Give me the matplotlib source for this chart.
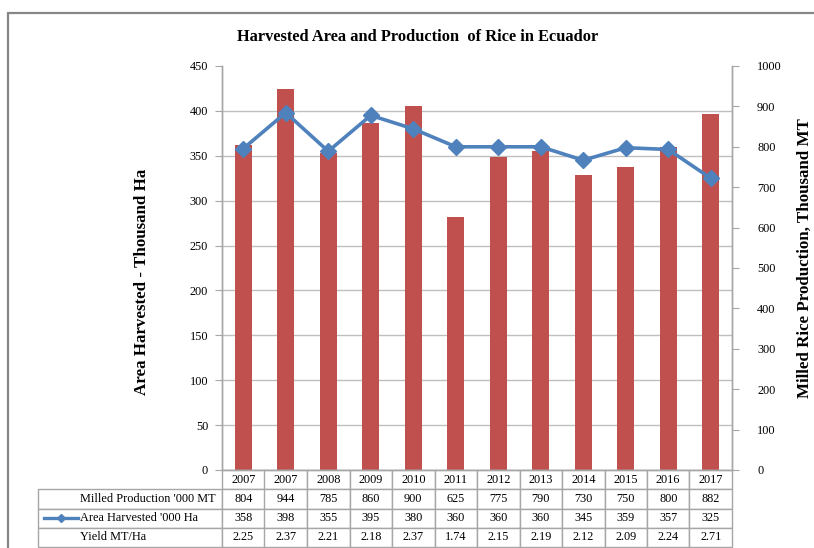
import matplotlib
matplotlib.use("Agg")
import matplotlib.pyplot as plt
from matplotlib.lines import Line2D
from matplotlib.patches import Rectangle
from matplotlib.ticker import FixedLocator

years = ["2007", "2007", "2008", "2009", "2010", "2011", "2012", "2013", "2014", "2015", "2016", "2017"]
production = [804, 944, 785, 860, 900, 625, 775, 790, 730, 750, 800, 882]
area = [358, 398, 355, 395, 380, 360, 360, 360, 345, 359, 357, 325]
yield_vals = ["2.25", "2.37", "2.21", "2.18", "2.37", "1.74", "2.15", "2.19", "2.12", "2.09", "2.24", "2.71"]
row_labels = ["Milled Production '000 MT", "Area Harvested '000 Ha", "Yield MT/Ha"]
left_ticks = [0, 50, 100, 150, 200, 250, 300, 350, 400, 450]
right_ticks = [0, 100, 200, 300, 400, 500, 600, 700, 800, 900, 1000]

BAR_C = "#C0504D"
LINE_C = "#4F81BD"
GRID_C = "#BFBFBF"
SPINE_C = "#A6A6A6"
SERIF = "Liberation Serif"

plt.rcParams["font.family"] = [SERIF, "DejaVu Serif"]

W, H = 814, 548
fig = plt.figure(figsize=(W / 100, H / 100), dpi=100)

L, R, T, B = 222, 732, 66, 470
ax = fig.add_axes([L / W, 1 - B / H, (R - L) / W, (B - T) / H])
ax2 = ax.twinx()
ax.set_zorder(ax2.get_zorder() + 1)
ax.patch.set_visible(False)

x = list(range(len(years)))

# bars on right axis
ax2.bar(x, production, width=0.4, color=BAR_C, zorder=2)
ax2.set_ylim(0, 1000)
ax2.set_yticks(right_ticks)
ax2.yaxis.set_minor_locator(FixedLocator([t * 1000 / 450 for t in left_ticks]))
ax2.grid(which="minor", axis="y", color=GRID_C, linewidth=1.0)
ax2.set_axisbelow(True)
ax2.tick_params(axis="y", which="minor", length=0)
ax2.tick_params(axis="y", which="major", length=5, color=SPINE_C, labelsize=8.8, pad=13, direction="out")

# line on left axis
ax.plot(x, area, color=LINE_C, linewidth=2.6, marker="D", markersize=8.5, zorder=3)
ax.set_ylim(0, 450)
ax.set_xlim(-0.5, len(years) - 0.5)
ax.set_yticks(left_ticks)
ax.tick_params(axis="y", length=5, color=SPINE_C, labelsize=8.8, pad=5)
ax.set_xticks([])
ax2.set_xticks([])

for a in (ax, ax2):
    for s in a.spines.values():
        s.set_color(SPINE_C)
        s.set_linewidth(1.0)
    a.spines["top"].set_visible(False)

ax.set_ylabel("Area Harvested - Thousand Ha", fontsize=12.2, fontweight="bold")
ax.yaxis.set_label_coords((150 - L) / (R - L), (B - 282) / (B - T))
ax2.set_ylabel("Milled Rice Production, Thousand MT", fontsize=12.2, fontweight="bold")
ax2.yaxis.set_label_coords((797 - L) / (R - L), (B - 258) / (B - T))

fig.text(418 / W, 1 - 37 / H, "Harvested Area and Production  of Rice in Ecuador",
         ha="center", va="center", fontsize=11.8, fontweight="bold")

# data table
cell_text = [[""] + years,
             [row_labels[0]] + [str(v) for v in production],
             [row_labels[1]] + [str(v) for v in area],
             [row_labels[2]] + yield_vals]
TL = 38
TB = 547
col_w = [(L - TL)] + [(R - L) / len(years)] * len(years)
tot = sum(col_w)
tbl = ax.table(cellText=cell_text, colWidths=[c / tot for c in col_w],
               cellLoc="center",
               bbox=[(TL - L) / (R - L), -(TB - B) / (B - T), (R - TL) / (R - L), (TB - B) / (B - T)])
tbl.auto_set_font_size(False)
tbl.set_fontsize(8.8)
for (r, c), cell in tbl.get_celld().items():
    cell.set_edgecolor(SPINE_C)
    cell.set_linewidth(1.0)
    cell.get_text().set_fontfamily(SERIF)
    if c == 0:
        cell.get_text().set_ha("left")
        cell._loc = "left"
        cell.PAD = 42 / (L - TL)
        if r == 0:
            cell.visible_edges = ""

# legend keys in the table
row_h = (TB - B) / 4
y1 = B + row_h * 1.5
y2 = B + row_h * 2.5
fig.add_artist(Rectangle((44 / W, 1 - (y1 + 2.5) / H), 34 / W, 5 / H,
                         transform=fig.transFigure, color=BAR_C))
fig.add_artist(Line2D([44 / W, 78 / W], [1 - y2 / H, 1 - y2 / H], transform=fig.transFigure,
                      color=LINE_C, linewidth=2.4))
fig.add_artist(Line2D([61 / W], [1 - y2 / H], transform=fig.transFigure,
                      color=LINE_C, marker="D", markersize=4, linestyle="none"))

# outer chart frame
fig.add_artist(Rectangle((8 / W, -0.05), 2.0, 1 - 13 / H + 0.05, transform=fig.transFigure,
                         fill=False, edgecolor="#878787", linewidth=1.6))

fig.savefig("out.png", dpi=100)
